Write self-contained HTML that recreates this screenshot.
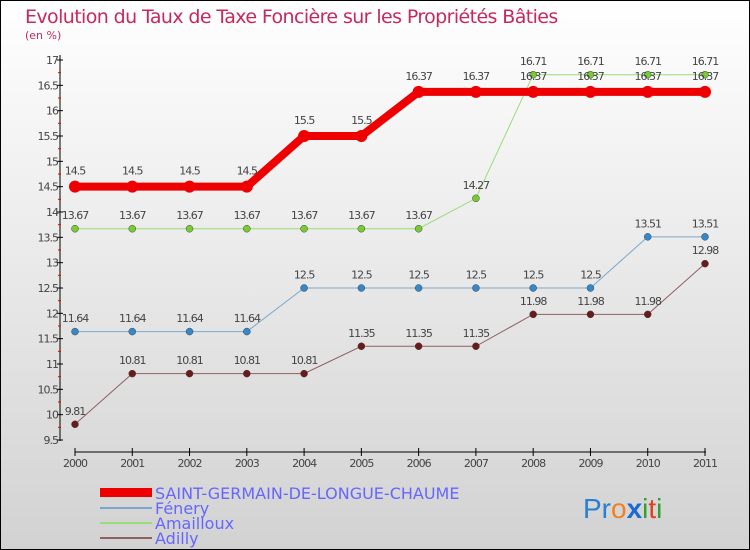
<!DOCTYPE html>
<html><head><meta charset="utf-8"><style>
body{margin:0}
svg{display:block;font-family:"DejaVu Sans","Liberation Sans",sans-serif}
</style></head><body>
<svg width="750" height="550" xmlns="http://www.w3.org/2000/svg">
<defs><linearGradient id="bg" x1="0" y1="0" x2="0" y2="1"><stop offset="0" stop-color="#ffffff"/><stop offset="1" stop-color="#d2d2d2"/></linearGradient></defs>
<rect x="0.5" y="0.5" width="749" height="549" fill="url(#bg)" stroke="#000"/>
<text x="25" y="23" font-size="19" fill="#c8285a" style="letter-spacing:-0.6px">Evolution du Taux de Taxe Foncière sur les Propriétés Bâties</text>
<text x="25" y="39" font-size="11" fill="#c8285a">(en %)</text>
<g id="axes"></g><g id="series"></g>
<g font-size="16" fill="#6666ff" style="letter-spacing:0px">
<rect x="100" y="488" width="52" height="9" fill="#e00"/>
<text x="155" y="499">SAINT-GERMAIN-DE-LONGUE-CHAUME</text>
<rect x="100" y="507" width="52" height="2" fill="#7aa8cc"/>
<text x="155" y="514">Fénery</text>
<rect x="100" y="522" width="52" height="2" fill="#99dd77"/>
<text x="155" y="529">Amailloux</text>
<rect x="100" y="537" width="52" height="2" fill="#906060"/>
<text x="155" y="544">Adilly</text>
</g>
<text x="583" y="518" font-size="28" font-family="Liberation Sans,sans-serif"><tspan fill="#2a7fd0">Pr</tspan><tspan fill="#f08020">o</tspan><tspan fill="#1a6ad0" font-weight="bold">x</tspan><tspan fill="#30a030">i</tspan><tspan fill="#e04020">t</tspan><tspan fill="#30a030">i</tspan></text>
</svg>
<script>
const years=[2000,2001,2002,2003,2004,2005,2006,2007,2008,2009,2010,2011];
const yTicks=[9.5,10,10.5,11,11.5,12,12.5,13,13.5,14,14.5,15,15.5,16,16.5,17];
const sgValues=[14.5,14.5,14.5,14.5,15.5,15.5,16.37,16.37,16.37,16.37,16.37,16.37];
const feneryValues=[11.64,11.64,11.64,11.64,12.5,12.5,12.5,12.5,12.5,12.5,13.51,13.51];
const amaillouxValues=[13.67,13.67,13.67,13.67,13.67,13.67,13.67,14.27,16.71,16.71,16.71,16.71];
const adillyValues=[9.81,10.81,10.81,10.81,10.81,11.35,11.35,11.35,11.98,11.98,11.98,12.98];
const NS="http://www.w3.org/2000/svg";
const X=i=>75+i*(630/11), Y=v=>440-(v-9.5)*(380/7.5);
function mk(t,a,p){const e=document.createElementNS(NS,t);for(const k in a)e.setAttribute(k,a[k]);p.appendChild(e);return e;}
const ax=document.getElementById('axes');
let e=mk('line',{x1:60,y1:55,x2:60,y2:441,stroke:'#000'},ax);


yTicks.forEach((v,i)=>{
  mk('line',{x1:57,y1:Y(v),x2:63,y2:Y(v),stroke:'#000'},ax);
  if(i<yTicks.length-1)mk('line',{x1:58,y1:Y(v+0.25),x2:61,y2:Y(v+0.25),stroke:'#e00'},ax);
  const t=mk('text',{x:58,y:Y(v)+4,'font-size':11,fill:'#444','text-anchor':'end','letter-spacing':'-1'},ax);
  
  
  t.textContent=v;
});
e=mk('line',{x1:75,y1:452,x2:706,y2:452,stroke:'#000'},ax);


years.forEach((y,i)=>{
  mk('line',{x1:X(i),y1:448,x2:X(i),y2:456,stroke:'#000'},ax);
  const t=mk('text',{x:X(i),y:467,'font-size':11,fill:'#444','text-anchor':'middle','letter-spacing':'-1'},ax);
  
  
  t.textContent=y;
});
const sg=document.getElementById('series');
function series(vals,color,w,r,name,dot){
  const g=mk('g',{},sg);
  
  
  mk('polyline',{points:vals.map((v,i)=>X(i)+','+Y(v)).join(' '),fill:'none',stroke:color,'stroke-width':w},g);
  vals.forEach((v,i)=>{
    const c=mk('circle',{cx:X(i),cy:Y(v),r:r,fill:dot,stroke:w>3?'none':'#444','stroke-width':0.5},g);
    
    
    const t=mk('text',{x:X(i),y:Y(v)-(r+6),'font-size':11,fill:'#444','text-anchor':'middle','letter-spacing':'-1'},g);
    
    
    t.textContent=v;
  });
}
series(adillyValues,'#906060',1,3.5,'adilly','#6a1a1a');
series(feneryValues,'#7aa8cc',1,3.5,'fenery','#3388cc');
series(amaillouxValues,'#99dd77',1,3.5,'amailloux','#77cc33');
series(sgValues,'#ee0000',8,6,'saint-germain','#ee0000');
</script>
</body></html>
